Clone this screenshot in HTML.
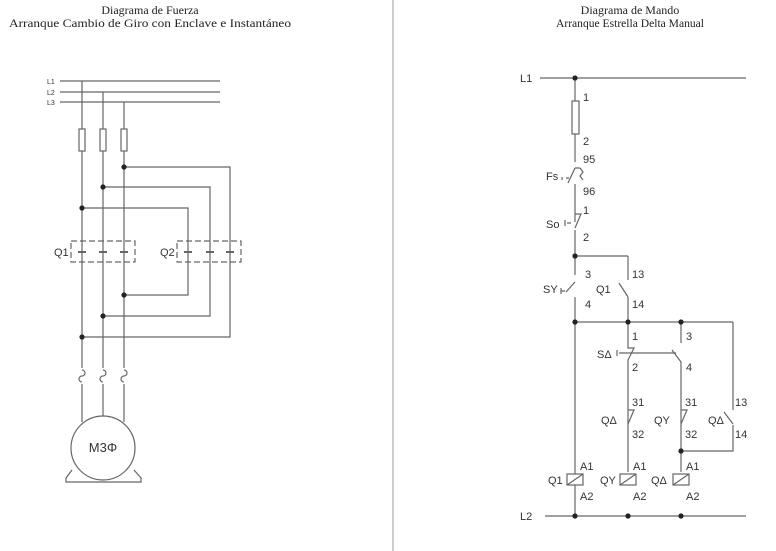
<!DOCTYPE html>
<html><head><meta charset="utf-8"><style>
html,body{margin:0;padding:0;background:#fff;width:776px;height:551px;overflow:hidden}
svg{display:block}
.t{font-family:"Liberation Serif",serif;font-size:12px;fill:#222}
.l{font-family:"Liberation Sans",sans-serif;font-size:11px;fill:#333}
</style></head><body>
<svg width="776" height="551" viewBox="0 0 776 551" xmlns="http://www.w3.org/2000/svg">
<line x1="393" y1="0" x2="393" y2="551" stroke="#999" stroke-width="1"/>
<text class="t" x="150" y="14" text-anchor="middle">Diagrama de Fuerza</text>
<text class="t" x="150" y="27" text-anchor="middle" textLength="282" lengthAdjust="spacingAndGlyphs">Arranque Cambio de Giro con Enclave e Instantáneo</text>
<text class="t" x="630" y="14" text-anchor="middle">Diagrama de Mando</text>
<text class="t" x="630" y="27" text-anchor="middle" textLength="148" lengthAdjust="spacingAndGlyphs">Arranque Estrella Delta Manual</text>

<g stroke="#666" stroke-width="1.2" fill="none">
<line x1="60" y1="81" x2="220" y2="81"/><line x1="60" y1="92" x2="220" y2="92"/><line x1="60" y1="102" x2="220" y2="102"/>
<line x1="82" y1="81" x2="82" y2="422"/><line x1="103" y1="92" x2="103" y2="416"/><line x1="124" y1="102" x2="124" y2="422"/>
<rect x="79" y="129" width="6" height="22" fill="#fff"/><rect x="100" y="129" width="6" height="22" fill="#fff"/><rect x="121" y="129" width="6" height="22" fill="#fff"/>
<polyline points="124,167 230,167 230,337 82,337"/>
<polyline points="103,187 210,187 210,316 103,316"/>
<polyline points="82,208 188,208 188,295 124,295"/>
<g stroke-dasharray="6,3"><rect x="71" y="241" width="64" height="21"/><rect x="177" y="241" width="64" height="21"/></g>
<g stroke-width="2"><line x1="78" y1="252" x2="86" y2="252"/><line x1="99" y1="252" x2="107" y2="252"/><line x1="120" y1="252" x2="128" y2="252"/>
<line x1="184" y1="252" x2="192" y2="252"/><line x1="206" y1="252" x2="214" y2="252"/><line x1="226" y1="252" x2="234" y2="252"/></g>
<g fill="#fff"><rect x="80" y="368" width="5" height="16" stroke="none"/><rect x="101" y="368" width="5" height="16" stroke="none"/><rect x="122" y="368" width="5" height="16" stroke="none"/></g>
<path d="M82,370 a3,3 0 1 1 0,6 a3,3 0 1 0 0,6"/><path d="M103,370 a3,3 0 1 1 0,6 a3,3 0 1 0 0,6"/><path d="M124,370 a3,3 0 1 1 0,6 a3,3 0 1 0 0,6"/>
<path d="M72,470 L66,478 L66,482 L141,482 L141,478 L134,470"/>
<circle cx="103" cy="448" r="32" fill="#fff"/>

<line x1="540" y1="78" x2="746" y2="78"/>
<line x1="575" y1="78" x2="575" y2="162"/>
<rect x="572" y="101" width="7" height="33" fill="#fff"/>
<path d="M575,168 L568,183 M575,168 L580,168 M580,168 L583,172 L580,176 L583,180 M575,184 L575,222 M575,214 L581,214 L575,228 M567,223 L571,223 M565,220 L565,226 M575,230 L575,275"/>
<path d="M566,178 L569,178 M562,177 L562,180"/>
<line x1="575" y1="256" x2="628" y2="256"/><line x1="628" y1="256" x2="628" y2="280"/>
<path d="M575,282 L566,292 M575,297 L575,322 M561,291 L565,291 M561,288 L561,294"/>
<path d="M619,283 L628,297 M628,297 L628,322"/>
<line x1="575" y1="322" x2="733" y2="322"/>
<line x1="575" y1="322" x2="575" y2="516"/>
<path d="M628,322 L628,348 L634,348 L628,360 L628,472"/>
<path d="M681,322 L681,343 M672,350 L681,362 L681,472"/>
<line x1="619" y1="353" x2="676" y2="353"/><path d="M617,350 L617,356"/>
<path d="M628,410 L634,410 L628,424 M681,410 L687,410 L681,424"/>
<path d="M733,322 L733,410 M724,412 L733,424 M733,425 L733,451 L681,451"/>
<line x1="545" y1="516" x2="746" y2="516"/>
<g fill="#fff"><rect x="567" y="474" width="16" height="11"/><rect x="620" y="474" width="16" height="11"/><rect x="673" y="474" width="16" height="11"/></g>
<path d="M567,485 L583,474 M620,485 L636,474 M673,485 L689,474"/>
</g>
<g fill="#222">
<circle cx="124" cy="167" r="2.6"/><circle cx="103" cy="187" r="2.6"/><circle cx="82" cy="208" r="2.6"/>
<circle cx="124" cy="295" r="2.6"/><circle cx="103" cy="316" r="2.6"/><circle cx="82" cy="337" r="2.6"/>
<circle cx="575" cy="78" r="2.6"/><circle cx="575" cy="256" r="2.6"/>
<circle cx="575" cy="322" r="2.6"/><circle cx="628" cy="322" r="2.6"/><circle cx="681" cy="322" r="2.6"/>
<circle cx="681" cy="451" r="2.6"/>
<circle cx="575" cy="516" r="2.6"/><circle cx="628" cy="516" r="2.6"/><circle cx="681" cy="516" r="2.6"/>
</g>
<g class="l">
<text x="47" y="84" style="font-size:7px">L1</text><text x="47" y="95" style="font-size:7px">L2</text><text x="47" y="105" style="font-size:7px">L3</text>
<text x="54" y="256">Q1</text><text x="160" y="256">Q2</text>
<text x="103" y="452" text-anchor="middle" style="font-size:13px">M3Φ</text>
<text x="520" y="82">L1</text><text x="520" y="520">L2</text>
<text x="583" y="101">1</text><text x="583" y="145">2</text><text x="583" y="163">95</text>
<text x="546" y="180">Fs</text><text x="583" y="195">96</text>
<text x="583" y="214">1</text><text x="546" y="228">So</text><text x="583" y="241">2</text>
<text x="585" y="278">3</text><text x="543" y="293">SY</text><text x="585" y="308">4</text>
<text x="632" y="278">13</text><text x="596" y="293">Q1</text><text x="632" y="308">14</text>
<text x="632" y="340">1</text><text x="597" y="358">SΔ</text><text x="632" y="371">2</text>
<text x="686" y="340">3</text><text x="686" y="371">4</text>
<text x="632" y="406">31</text><text x="601" y="424">QΔ</text><text x="632" y="438">32</text>
<text x="685" y="406">31</text><text x="654" y="424">QY</text><text x="685" y="438">32</text>
<text x="735" y="406">13</text><text x="708" y="424">QΔ</text><text x="735" y="438">14</text>
<text x="580" y="470">A1</text><text x="548" y="484">Q1</text><text x="580" y="500">A2</text>
<text x="633" y="470">A1</text><text x="600" y="484">QY</text><text x="633" y="500">A2</text>
<text x="686" y="470">A1</text><text x="651" y="484">QΔ</text><text x="686" y="500">A2</text>
</g>
</svg>
</body></html>
